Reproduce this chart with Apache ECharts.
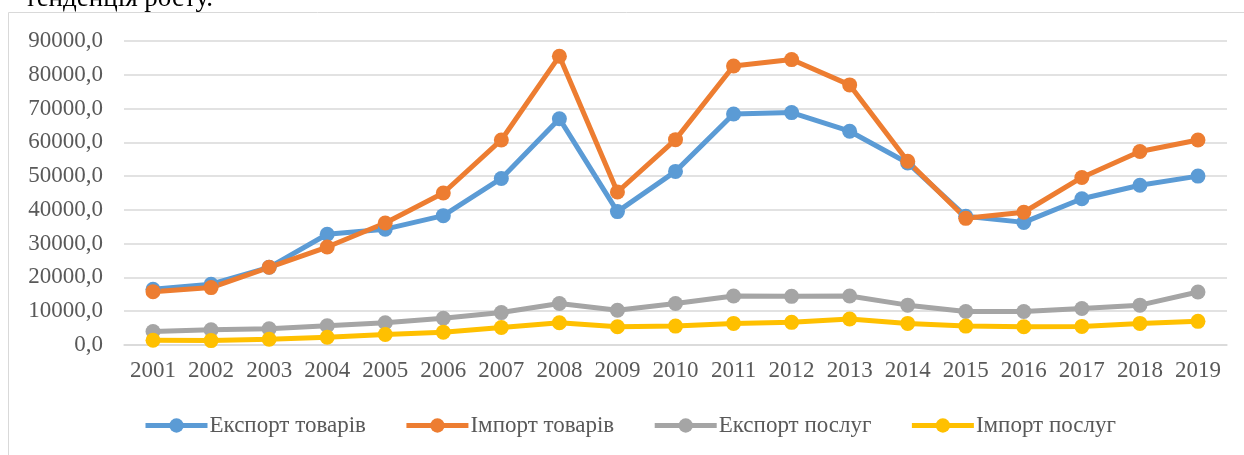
<!DOCTYPE html>
<html>
<head>
<meta charset="utf-8">
<script src="https://cdn.jsdelivr.net/npm/echarts@6/dist/echarts.min.js"></script>
<style>
  html, body { margin: 0; padding: 0; background: #fff; }
  #main { width: 1244px; height: 455px; }
</style>
</head>
<body>
<div id="main"></div>
<script>
  // роки
  var years = ['2001','2002','2003','2004','2005','2006','2007','2008','2009','2010',
               '2011','2012','2013','2014','2015','2016','2017','2018','2019'];
  var exportGoods = [16500, 18000, 23000, 32800, 34300, 38300, 49300, 67000, 39500, 51400,
                     68400, 68800, 63300, 53900, 38100, 36300, 43300, 47300, 50000];
  var importGoods = [15800, 17000, 23000, 29000, 36100, 45000, 60700, 85500, 45300, 60800,
                     82600, 84500, 77000, 54400, 37500, 39300, 49600, 57300, 60700];
  var exportServices = [4000, 4500, 4800, 5700, 6600, 7900, 9600, 12300, 10300, 12300,
                        14500, 14400, 14500, 11800, 9900, 9900, 10800, 11800, 15700];
  var importServices = [1400, 1300, 1700, 2300, 3100, 3800, 5200, 6600, 5400, 5600,
                        6400, 6700, 7700, 6400, 5600, 5400, 5500, 6400, 7000];
  var seriesNames = ['Експорт товарів', 'Імпорт товарів', 'Експорт послуг', 'Імпорт послуг'];

  var font = "'Liberation Serif', 'Times New Roman', serif";
  var chart = echarts.init(document.getElementById('main'));

  function mk(name, data, color) {
    return {
      name: name,
      type: 'line',
      data: data,
      symbol: 'circle',
      symbolSize: 15,
      lineStyle: { width: 5, color: color },
      itemStyle: { color: color },
      animation: false
    };
  }

  chart.setOption({
    animation: false,
    color: ['#5B9BD5', '#ED7D31', '#A5A5A5', '#FFC000'],
    graphic: [
      {
        type: 'rect',
        shape: { x: 8.5, y: 12.5, width: 1300, height: 500 },
        style: { fill: 'none', stroke: '#D9D9D9', lineWidth: 1 },
        silent: true
      },
      {
        type: 'text',
        right: 1244 - 213,
        top: -15,
        style: { text: 'тенденція росту.', font: '27px ' + font, fill: '#000' }
      }
    ],
    grid: { left: 124, right: 17, top: 41, bottom: 110 },
    legend: {
      left: 138,
      top: 409,
      itemWidth: 62,
      itemHeight: 18,
      itemGap: 38,
      lineStyle: { width: 5 },
      textStyle: { fontFamily: font, fontSize: 23, color: '#595959', padding: [0, 0, 0, -3] },
      data: seriesNames
    },
    xAxis: {
      type: 'category',
      data: years,
      boundaryGap: true,
      axisLine: { lineStyle: { color: '#D9D9D9', width: 1.5 } },
      axisTick: { show: false },
      axisLabel: { interval: 0, color: '#595959', fontFamily: font, fontSize: 23, margin: 14 }
    },
    yAxis: {
      type: 'value',
      min: 0,
      max: 90000,
      interval: 10000,
      axisLine: { show: false },
      axisTick: { show: false },
      splitLine: { lineStyle: { color: '#D9D9D9', width: 1.5 } },
      axisLabel: {
        color: '#595959', fontFamily: font, fontSize: 23, margin: 21,
        formatter: function (v) { return v.toFixed(1).replace('.', ','); }
      }
    },
    series: [
      mk(seriesNames[0], exportGoods, '#5B9BD5'),
      mk(seriesNames[1], importGoods, '#ED7D31'),
      mk(seriesNames[2], exportServices, '#A5A5A5'),
      mk(seriesNames[3], importServices, '#FFC000')
    ]
  });
</script>
</body>
</html>
